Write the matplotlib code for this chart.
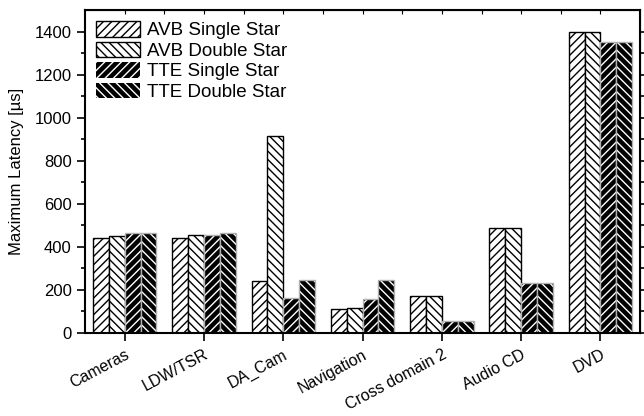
import matplotlib
matplotlib.use('Agg')
import matplotlib.pyplot as plt
import matplotlib.transforms as mtransforms
from matplotlib.patches import Patch
import numpy as np

plt.rcParams['font.family'] = ['Liberation Sans', 'DejaVu Sans']
plt.rcParams['hatch.linewidth'] = 1.0

categories = ['Cameras', 'LDW/TSR', 'DA_Cam', 'Navigation', 'Cross domain 2', 'Audio CD', 'DVD']
avb_single = [443, 443, 243, 112, 172, 487, 1400]
avb_double = [452, 455, 913, 115, 172, 487, 1400]
tte_single = [466, 455, 161, 158, 56, 234, 1350]
tte_double = [466, 465, 247, 247, 56, 234, 1350]

series = [
    ('AVB Single Star', avb_single, 'white', 'black', '////'),
    ('AVB Double Star', avb_double, 'white', 'black', '\\\\\\\\'),
    ('TTE Single Star', tte_single, 'black', 'white', '////'),
    ('TTE Double Star', tte_double, 'black', 'white', '\\\\\\\\'),
]

fig = plt.figure(figsize=(6.44, 4.16), dpi=100)
ax = fig.add_axes([0.132, 0.1995, 0.862, 0.7765])

x = np.arange(len(categories))
w = 0.2
handles = []
for i, (name, vals, fc, hc, hatch) in enumerate(series):
    pos = x - 0.3 + i * w
    ax.bar(pos, vals, w, color=fc, edgecolor=hc, hatch=hatch, linewidth=0)
    edge = 'black' if fc == 'white' else '#b0b0b0'
    ax.bar(pos, vals, w, fill=False, edgecolor=edge, linewidth=1.0)
    handles.append(Patch(facecolor=fc, edgecolor=hc, hatch=hatch,
                         linewidth=1.0 if fc == 'white' else 0, label=name))

ax.set_xlim(-0.5, len(categories) - 0.5)
ax.set_ylim(0, 1500)
ax.set_yticks(np.arange(0, 1401, 200))
ax.set_yticks(np.arange(100, 1500, 200), minor=True)
ax.set_xticks(x)
ax.set_xticklabels(categories, rotation=28, ha='right', rotation_mode='anchor',
                   fontsize=11.5)
shift = mtransforms.ScaledTranslation(4 / 100, 0, fig.dpi_scale_trans)
for lab in ax.get_xticklabels():
    lab.set_transform(lab.get_transform() + shift)
ax.set_ylabel('Maximum Latency [\u00b5s]', fontsize=12, labelpad=8)
ax.tick_params(axis='y', labelsize=12, width=1.2)
ax.tick_params(axis='y', which='major', length=6)
ax.tick_params(axis='y', which='minor', length=3, width=1.2)
ax.tick_params(axis='x', length=6, width=1.2, pad=4)
for s in ax.spines.values():
    s.set_linewidth(1.5)

# top and right axes with ticks, no labels
top = ax.secondary_xaxis('top')
top.set_xticks(np.arange(-0.5, len(categories), 0.5)[1:-1])
top.set_xticklabels([])
top.tick_params(direction='in', length=3, width=0.8)
right = ax.secondary_yaxis('right')
right.set_yticks(np.arange(0, 1500, 100))
right.set_yticklabels([])
right.tick_params(direction='out', length=5, width=1.2)

ax.legend(handles=handles, loc='upper left', frameon=False, fontsize=13.5,
          handlelength=2.35, handleheight=0.9, labelspacing=0.12,
          borderaxespad=0.2, borderpad=0.4, handletextpad=0.35)

fig.savefig('out.png', dpi=100)
